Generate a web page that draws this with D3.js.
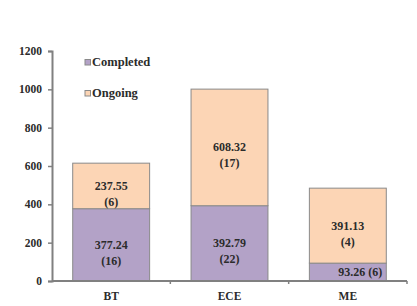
<!DOCTYPE html>
<html>
<head>
<meta charset="utf-8">
<script src="https://cdn.jsdelivr.net/npm/d3@7"></script>
<style>
  body { margin: 0; background: #fff; }
</style>
</head>
<body>
<div class="chart"></div>
<script>
// data
const departments = ['BT', 'ECE', 'ME']
const completed = [377.24, 392.79, 93.26]
const completedCount = [16, 22, 6]
const ongoing = [237.55, 608.32, 391.13]
const ongoingCount = [6, 17, 4]
const yTicks = [0, 200, 400, 600, 800, 1000, 1200]

const width = 417
const height = 306
const margin = { top: 51, right: 10, bottom: 25, left: 52 }

const colors = { completed: '#b3a2c7', ongoing: '#fcd5b5' }

// no inner group: everything is placed in page pixels
const svg = d3.select('.chart')
  .append('svg')
  .attr('width', width)
  .attr('height', height)

const x = d3.scaleBand()
  .domain(departments)
  .range([margin.left, width - margin.right])
  .paddingInner(0.35)
  .paddingOuter(0.175)

const y = d3.scaleLinear()
  .domain([0, 1200])
  .range([height - margin.bottom, margin.top])

// stack the two series
const rows = departments.map((d, i) => ({
  dept: d,
  completed: completed[i],
  ongoing: ongoing[i],
  cCount: completedCount[i],
  oCount: ongoingCount[i]
}))
const stacked = d3.stack().keys(['completed', 'ongoing'])(rows)

svg.selectAll('.series')
  .data(stacked)
  .enter()
  .append('g')
  .attr('fill', d => colors[d.key])
  .selectAll('rect')
  .data(d => d)
  .enter()
  .append('rect')
  .attr('x', d => x(d.data.dept))
  .attr('y', d => y(d[1]))
  .attr('width', x.bandwidth())
  .attr('height', d => y(d[0]) - y(d[1]))
  .attr('stroke', '#8a8a8a')
  .attr('stroke-width', 1)

// same look for every label (serif bold, like the Excel original)
const label = (sel, size) => sel
  .style('font-family', '"Liberation Serif"')
  .style('font-weight', 'bold')
  .style('font-size', size + 'px')
  .attr('fill', '#2b2b2b')

// value labels
stacked.forEach(layer => {
  layer.forEach(d => {
    const value = d.data[layer.key]
    const count = layer.key === 'completed' ? d.data.cCount : d.data.oCount
    const cx = x(d.data.dept) + x.bandwidth() / 2
    const cy = (y(d[0]) + y(d[1])) / 2
    const segH = y(d[0]) - y(d[1])
    if (segH < 30) {
      // too short for two lines, it sits to the right
      svg.append('text').call(label, 12)
        .attr('x', x(d.data.dept) + x.bandwidth() - 4)
        .attr('y', cy + 4)
        .attr('text-anchor', 'end')
        .text(`${value.toFixed(2)} (${count})`)
    } else {
      svg.append('text').call(label, 12)
        .attr('x', cx).attr('y', cy + 4)
        .attr('text-anchor', 'middle')
        .text(value.toFixed(2))
      svg.append('text').call(label, 12)
        .attr('x', cx).attr('y', cy + 20)
        .attr('text-anchor', 'middle')
        .text(`(${count})`)
    }
  })
})

// y axis: line and ticks from d3, labels drawn on the root
const yAxis = svg.append('g')
  .attr('class', 'axis axis--y')
  .attr('transform', `translate(${margin.left},0)`)
  .call(d3.axisLeft(y).tickValues(yTicks).tickSize(4).tickFormat(''))
yAxis.selectAll('line').attr('stroke', '#808080').attr('stroke-width', 1.5)
yAxis.select('.domain').attr('stroke', '#808080').attr('stroke-width', 2)

svg.selectAll('.ytick')
  .data(yTicks)
  .enter()
  .append('text')
  .call(label, 11.5)
  .attr('x', margin.left - 10)
  .attr('y', d => y(d) + 4)
  .attr('text-anchor', 'end')
  .text(d => d)

// x axis with ticks on the band edges
const baseY = y(0)
const edges = departments.map(d => x(d) - x.step() * x.paddingInner() / 2)
edges.push(width - margin.right)
svg.append('line')
  .attr('x1', margin.left).attr('x2', width - margin.right)
  .attr('y1', baseY).attr('y2', baseY)
  .attr('stroke', '#808080').attr('stroke-width', 2)
svg.selectAll('.edge')
  .data(edges.slice(1))
  .enter()
  .append('line')
  .attr('x1', d => d).attr('x2', d => d)
  .attr('y1', baseY).attr('y2', baseY + 3)
  .attr('stroke', '#808080').attr('stroke-width', 1.5)
svg.selectAll('.cat')
  .data(departments)
  .enter()
  .append('text')
  .call(label, 11.5)
  .attr('x', d => x(d) + x.bandwidth() / 2)
  .attr('y', baseY + 19)
  .attr('text-anchor', 'middle')
  .text(d => d)

// legend
const legendItems = [
  { key: 'completed', label: 'Completed' },
  { key: 'ongoing', label: 'Ongoing' }
]
const legendX = 85
const legendY = 62
svg.selectAll('.legend-box')
  .data(legendItems)
  .enter()
  .append('rect')
  .attr('x', legendX)
  .attr('y', (d, i) => legendY + i * 31 - 2.5)
  .attr('width', 5.5).attr('height', 5.5)
  .attr('fill', d => colors[d.key])
  .attr('stroke', '#8a8a8a')
svg.selectAll('.legend-text')
  .data(legendItems)
  .enter()
  .append('text')
  .call(label, 12.5)
  .attr('x', legendX + 7)
  .attr('y', (d, i) => legendY + i * 31 + 4)
  .text(d => d.label)
</script>
</body>
</html>
